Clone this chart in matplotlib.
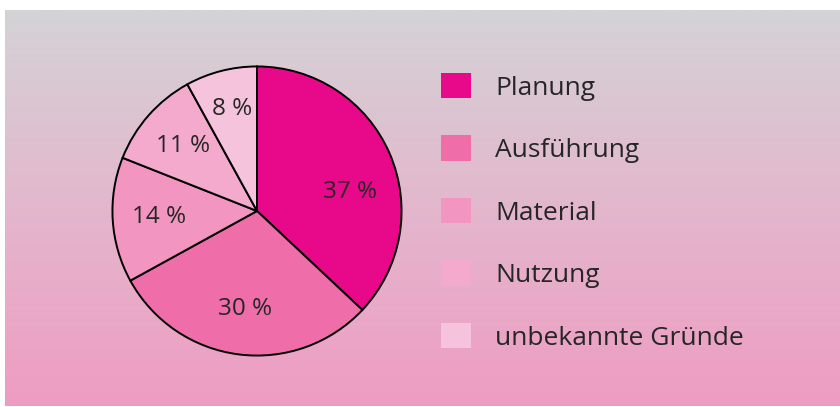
import numpy as np
import matplotlib.pyplot as plt
from matplotlib.colors import LinearSegmentedColormap

# data
categories = ["Planung", "Ausführung", "Material", "Nutzung", "unbekannte Gründe"]
shares = [37, 30, 14, 11, 8]
colors = ["#e8088a", "#ef6eaa", "#f295c0", "#f3aacd", "#f6c3dc"]

plt.rcParams['font.family'] = ['Open Sans', 'DejaVu Sans']
text_color = "#262626"

W, H = 840, 407
fig = plt.figure(figsize=(W / 100, H / 100), dpi=100)
fig.patch.set_facecolor("white")

# gradient panel behind everything
bg = fig.add_axes([5 / W, 1 / H, 835 / W, 396 / H])
grad = LinearSegmentedColormap.from_list("bg", ["#d4d3d6", "#e3b7cd", "#ef9cc2"])
bg.imshow(np.linspace(0, 1, 256).reshape(-1, 1), aspect="auto", cmap=grad,
          extent=[0, 1, 0, 1], origin="upper")
bg.set_axis_off()

# pie
cx, cy, r = 257, 211, 146
ax = fig.add_axes([(cx - r) / W, (H - cy - r) / H, 2 * r / W, 2 * r / H])
wedges, texts, autotexts = ax.pie(
    shares, colors=colors, startangle=90, counterclock=False,
    autopct=lambda p: f"{p:.0f} %", pctdistance=0.68,
    wedgeprops=dict(edgecolor="black", linewidth=1.4),
    textprops=dict(color=text_color, fontsize=17.5))
ax.set_xlim(-1.01, 1.01)
ax.set_ylim(-1.01, 1.01)
ax.set_aspect("equal")
ax.set_axis_off()

# nudge the big slice label a little towards the horizontal, as in the original
x0, y0 = autotexts[0].get_position()
autotexts[0].set_position((x0 + 0.02, y0 - 0.14))
x4, y4 = autotexts[4].get_position()
autotexts[4].set_position((x4, y4 + 0.05))

leg = fig.legend(wedges, categories, loc="upper left",
                 bbox_to_anchor=(441 / W, 1 - 73 / H), frameon=False,
                 fontsize=19, handlelength=1.14, handleheight=1.1,
                 handletextpad=0.91, labelspacing=1.32, borderpad=0,
                 borderaxespad=0)
for t in leg.get_texts():
    t.set_color(text_color)
for h in leg.legend_handles:
    h.set_edgecolor("none")
    h.set_linewidth(0)

fig.savefig("out.png", dpi=100)
